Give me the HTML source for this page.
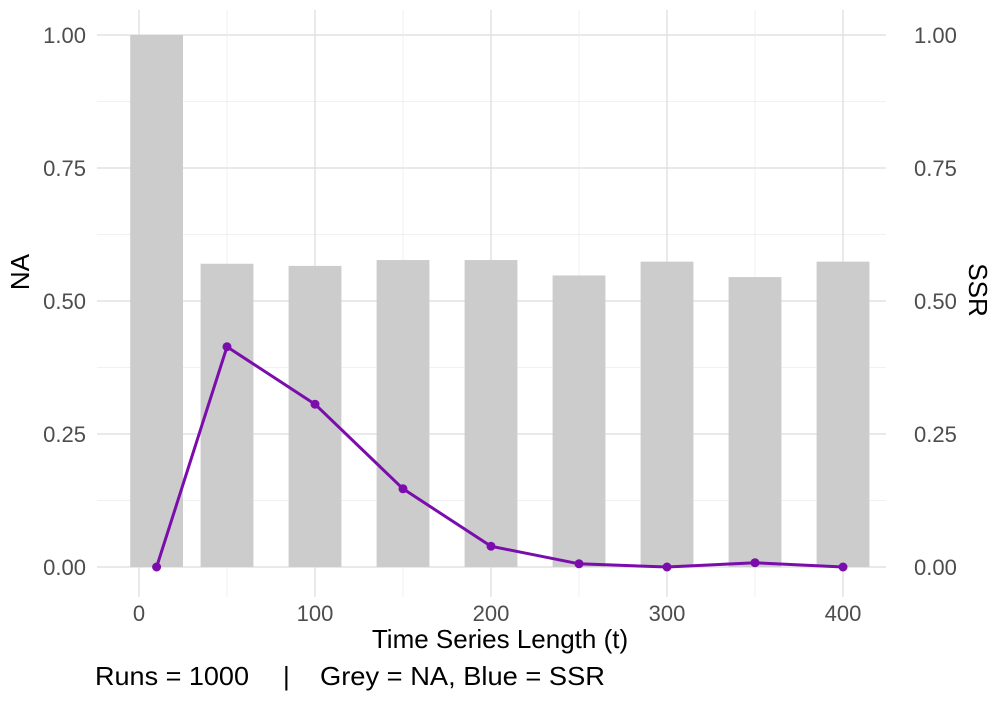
<!DOCTYPE html>
<html><head><meta charset="utf-8"><style>
body{margin:0;background:#fff;font-family:"Liberation Sans",sans-serif;}
svg text{font-family:"Liberation Sans",sans-serif;}
</style></head><body>
<svg id="chart" width="1000" height="700">
<g id="grid"></g>
<g id="bars"></g>
<g id="line"></g>
<g id="axes"></g>
<text x="22" y="272" transform="rotate(-90 22 272)" font-size="26" text-anchor="middle" dominant-baseline="middle">NA</text>
<text x="976" y="290" transform="rotate(90 976 290)" font-size="26" text-anchor="middle" dominant-baseline="middle">SSR</text>
<text x="500" y="648" font-size="26" text-anchor="middle">Time Series Length (t)</text>
<g>
<text x="95" y="685" font-size="26" textLength="154" lengthAdjust="spacingAndGlyphs">Runs = 1000</text>
<text x="283" y="685" font-size="26">|</text>
<text x="320" y="685" font-size="26" textLength="285" lengthAdjust="spacingAndGlyphs">Grey = NA, Blue = SSR</text>
</g>
</svg>
<script>
const barX=[10,50,100,150,200,250,300,350,400];
const barNA=[1.0,0.570,0.566,0.577,0.577,0.548,0.574,0.545,0.574];
const lineX=[10,50,100,150,200,250,300,350,400];
const lineSSR=[0,0.414,0.306,0.147,0.039,0.006,0,0.008,0];
const xTicks=[0,100,200,300,400];
const yTicks=[0,0.25,0.5,0.75,1.0];
const yLabels=["0.00","0.25","0.50","0.75","1.00"];
const NS="http://www.w3.org/2000/svg";
const sx=v=>139+v*1.76, sy=v=>567-v*532;
const L=97,R=886,T=10,B=597;
function mk(tag,attrs,parent){const e=document.createElementNS(NS,tag);for(const k in attrs)e.setAttribute(k,attrs[k]);document.getElementById(parent).appendChild(e);return e;}
for(let v=0;v<=1.0001;v+=0.125){const minor=Math.round(v*8)%2;const l=mk('line',{x1:L,x2:R,y1:sy(v),y2:sy(v),stroke:minor?'#ececec':'#dcdcdc','stroke-width':minor?0.8:1.2},'grid');

}
for(let v=-50;v<=425;v+=50){const x=sx(v);if(x<L||x>R)continue;const minor=v%100;const l=mk('line',{x1:x,x2:x,y1:T,y2:B,stroke:minor?'#ececec':'#dcdcdc','stroke-width':minor?0.8:1.2},'grid');

}
barX.forEach((x,i)=>{const w=30*1.76;const r=mk('rect',{x:sx(x)-w/2,y:sy(barNA[i]),width:w,height:sy(0)-sy(barNA[i]),fill:'#cccccc'},'bars');

});
const pl=mk('polyline',{points:lineX.map((x,i)=>sx(x)+','+sy(lineSSR[i])).join(' '),fill:'none',stroke:'#7a0dab','stroke-width':3,'stroke-linejoin':'round'},'line');


lineX.forEach((x,i)=>{const c=mk('circle',{cx:sx(x),cy:sy(lineSSR[i]),r:4.5,fill:'#7a0dab'},'line');

});
xTicks.forEach(v=>{const t=mk('text',{x:sx(v),y:621,'font-size':22,fill:'#4d4d4d','text-anchor':'middle'},'axes');t.textContent=v;

});
yTicks.forEach((v,i)=>{const t=mk('text',{x:86,y:sy(v)+8,'font-size':22,fill:'#4d4d4d','text-anchor':'end'},'axes');t.textContent=yLabels[i];


const t2=mk('text',{x:914,y:sy(v)+8,'font-size':22,fill:'#4d4d4d'},'axes');t2.textContent=yLabels[i];

});
</script>
</body></html>
